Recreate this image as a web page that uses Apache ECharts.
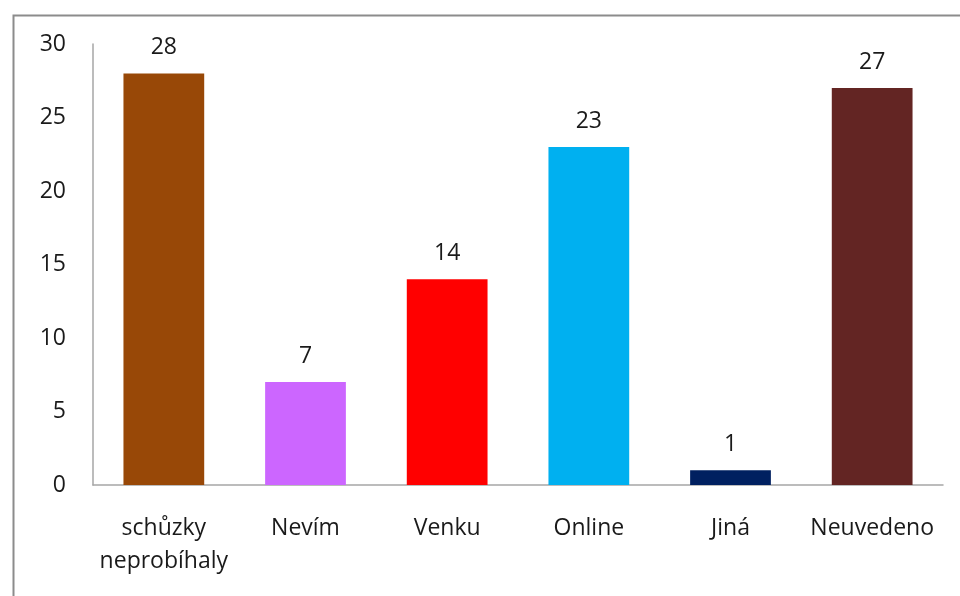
<!DOCTYPE html>
<html><head><meta charset="utf-8">
<script src="https://cdn.jsdelivr.net/npm/echarts@6/dist/echarts.min.js"></script>
<style>html,body{margin:0;padding:0;background:#fff}#c{width:960px;height:596px}</style>
</head><body><div id="c"></div>
<script>
const categories = ['schůzky\nneprobíhaly', 'Nevím', 'Venku', 'Online', 'Jiná', 'Neuvedeno'];
const values = [28, 7, 14, 23, 1, 27];
const colors = ['#984807', '#CC66FF', '#FF0000', '#00B0F0', '#002060', '#632523'];
const yTicks = [0, 5, 10, 15, 20, 25, 30];

const font = '"Open Sans", "Noto Sans", sans-serif';
const chart = echarts.init(document.getElementById('c'), null, {renderer: 'canvas'});
chart.setOption({
  animation: false,
  backgroundColor: '#fff',
  graphic: [{
    type: 'rect', left: 11, top: 13,
    shape: {width: 1000, height: 1000},
    style: {fill: 'none', stroke: '#8c8c8c', lineWidth: 2},
    silent: true
  }],
  grid: {left: 93, right: 17, top: 44, bottom: 111, containLabel: false},
  xAxis: {
    type: 'category', data: categories,
    axisLine: {lineStyle: {color: '#a6a6a6', width: 1.5}},
    axisTick: {show: false},
    axisLabel: {color: '#1a1a1a', fontSize: 23, fontFamily: font, margin: 27, lineHeight: 33, interval: 0}
  },
  yAxis: {
    type: 'value', min: yTicks[0], max: yTicks[yTicks.length - 1], interval: 5,
    axisLine: {show: true, lineStyle: {color: '#a6a6a6', width: 1.5}},
    axisTick: {show: false},
    splitLine: {show: false},
    axisLabel: {color: '#1a1a1a', fontSize: 23, fontFamily: font, margin: 27}
  },
  series: [{
    type: 'bar', barWidth: '57%',
    data: values.map((v, i) => ({value: v, itemStyle: {color: colors[i]}})),
    label: {show: true, position: 'top', distance: 14, color: '#1a1a1a', fontSize: 23, fontFamily: font}
  }]
});
</script></body></html>
